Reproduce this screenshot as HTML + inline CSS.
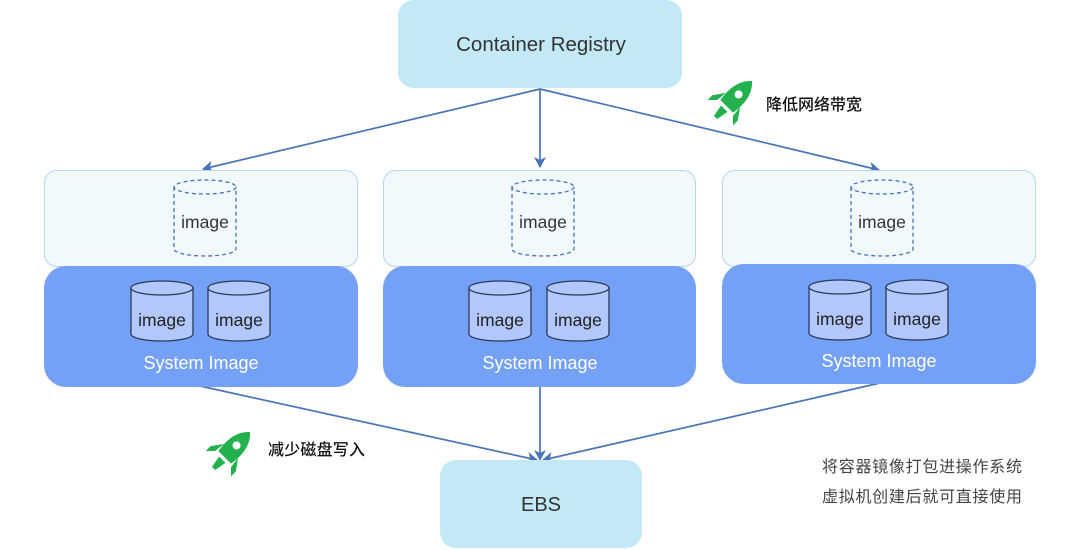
<!DOCTYPE html>
<html><head><meta charset="utf-8"><style>
html,body{margin:0;padding:0;background:#fff;}
svg{display:block;}
text{font-family:"Liberation Sans","Noto Sans CJK SC",sans-serif;}
</style></head><body>
<svg width="1080" height="550" viewBox="0 0 1080 550" xmlns="http://www.w3.org/2000/svg">
<defs>
<marker id="ah" markerWidth="12" markerHeight="12" refX="10" refY="6" orient="auto" markerUnits="userSpaceOnUse">
<path d="M0,0 L11,6 L0,12 L3,6 Z" fill="#4a74b4"/>
</marker>
<g id="rocket">
<path d="M0,-24 C9,-16 10,-4 8,8 L-8,8 C-10,-4 -9,-16 0,-24 Z" fill="#22b14c"/>
<circle cx="0" cy="-7" r="3.6" fill="#fff"/>
<path d="M-9,0 L-16,10 L-16,16 L-10,10 Z" fill="#22b14c"/>
<path d="M9,0 L16,10 L16,16 L10,10 Z" fill="#22b14c"/>
<path d="M-4,11 L4,11 L2,22 L-2,22 Z" fill="#22b14c"/>
</g>
<g id="dcyl">
<path d="M-31,-31 L-31,31 A31,7 0 0 0 31,31 L31,-31" fill="none" stroke="#4a74b4" stroke-width="1.3" stroke-dasharray="4,3"/>
<ellipse cx="0" cy="-31" rx="31" ry="7" fill="none" stroke="#4a74b4" stroke-width="1.3" stroke-dasharray="4,3"/>
<text x="0" y="10" font-size="17.5" fill="#333" text-anchor="middle">image</text>
</g>
<g id="scyl">
<path d="M-31,-23 L-31,23 A31,7 0 0 0 31,23 L31,-23 Z" fill="#b2c7fb" stroke="#2a3a5a" stroke-width="1.3"/>
<ellipse cx="0" cy="-23" rx="31" ry="7" fill="#b2c7fb" stroke="#2a3a5a" stroke-width="1.3"/>
<text x="0" y="15" font-size="17.5" fill="#222" text-anchor="middle">image</text>
</g>
</defs>

<rect x="398" y="0" width="284" height="88" rx="16" fill="#c3e8f6"/>
<text x="541" y="51" font-size="20.5" fill="#333" text-anchor="middle">Container Registry</text>

<g stroke="#4a74b4" stroke-width="1.7" fill="none">
<line x1="540" y1="89" x2="203" y2="169" marker-end="url(#ah)"/>
<line x1="540" y1="89" x2="540" y2="167" marker-end="url(#ah)"/>
<line x1="540" y1="89" x2="879" y2="170" marker-end="url(#ah)"/>
<line x1="200" y1="386" x2="537" y2="460" marker-end="url(#ah)"/>
<line x1="540" y1="386" x2="540" y2="460" marker-end="url(#ah)"/>
<line x1="880" y1="383" x2="543" y2="460" marker-end="url(#ah)"/>
</g>

<rect x="44.5" y="170.5" width="313" height="96" rx="12" fill="#f1f9fd" stroke="#b6d5ee"/>
<rect x="383.5" y="170.5" width="312" height="96" rx="12" fill="#f1f9fd" stroke="#b6d5ee"/>
<rect x="722.5" y="170.5" width="313" height="96" rx="12" fill="#f1f9fd" stroke="#b6d5ee"/>

<rect x="44" y="266" width="314" height="121" rx="22" fill="#74a1f6"/>
<rect x="383" y="266" width="313" height="121" rx="22" fill="#74a1f6"/>
<rect x="722" y="264" width="314" height="120" rx="22" fill="#74a1f6"/>

<use href="#dcyl" x="205" y="218"/>
<use href="#dcyl" x="543" y="218"/>
<use href="#dcyl" x="882" y="218"/>

<use href="#scyl" x="162" y="311"/>
<use href="#scyl" x="239" y="311"/>
<use href="#scyl" x="500" y="311"/>
<use href="#scyl" x="578" y="311"/>
<use href="#scyl" x="840" y="310"/>
<use href="#scyl" x="917" y="310"/>

<text x="201" y="369" font-size="18" fill="#fff" text-anchor="middle">System Image</text>
<text x="540" y="369" font-size="18" fill="#fff" text-anchor="middle">System Image</text>
<text x="879" y="367" font-size="18" fill="#fff" text-anchor="middle">System Image</text>

<rect x="440" y="460" width="202" height="88" rx="16" fill="#c3e8f6"/>
<text x="541" y="511" font-size="20" fill="#333" text-anchor="middle">EBS</text>

<use href="#rocket" transform="translate(733,100) rotate(45) scale(1.12)"/>
<use href="#rocket" transform="translate(231,451) rotate(45) scale(1.12)"/>
<text x="766" y="110" font-size="16" font-weight="500" fill="#111" textLength="96">降低网络带宽</text>
<text x="268" y="455" font-size="16" font-weight="500" fill="#111" textLength="97">减少磁盘写入</text>

<text x="822" y="472" font-size="16" fill="#444" textLength="200">将容器镜像打包进操作系统</text>
<text x="822" y="502" font-size="16" fill="#444" textLength="200">虚拟机创建后就可直接使用</text>
</svg>
</body></html>
